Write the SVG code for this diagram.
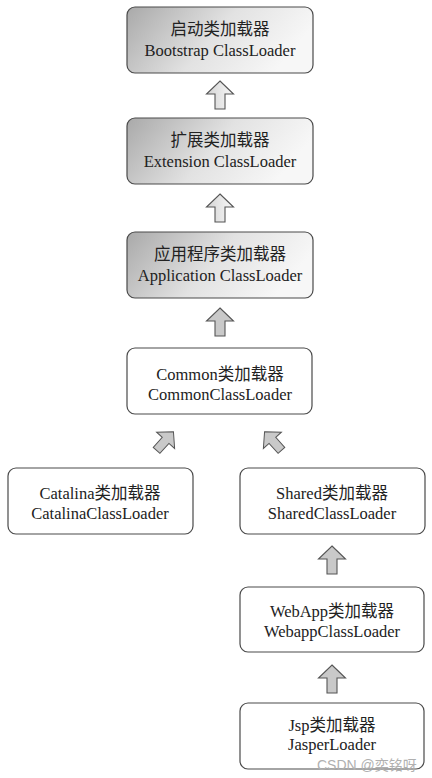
<svg xmlns="http://www.w3.org/2000/svg" width="432" height="778" viewBox="0 0 432 778">
<defs>
<linearGradient id="g" x1="0" y1="0" x2="1" y2="0.3">
<stop offset="0" stop-color="#a9a9a9"/>
<stop offset="0.55" stop-color="#e2e2e2"/>
<stop offset="1" stop-color="#f7f7f7"/>
</linearGradient>
<linearGradient id="ga" x1="0" y1="0" x2="1" y2="0">
<stop offset="0" stop-color="#d4d4d4"/>
<stop offset="1" stop-color="#f8f8f8"/>
</linearGradient>
<path id="arr" d="M0,-14 L13.5,-1 L5,-1 L5,14 L-5,14 L-5,-1 L-13.5,-1 Z"/>
</defs>
<style>
.box{stroke:#4a4a4a;stroke-width:1.2}
.gbox{fill:url(#g)}
.wbox{fill:#ffffff}
.t{font-family:"Liberation Serif","Noto Sans CJK SC",serif;font-size:16.5px;fill:#222;text-anchor:middle}
.a1{fill:url(#ga);stroke:#555;stroke-width:1.1}
.a2{fill:#c9c9c9;stroke:#555;stroke-width:1.1}
.wm{font-family:"Liberation Sans","Noto Sans CJK SC",sans-serif;font-size:14px;fill:#b0b0b0}
</style>
<rect width="432" height="778" fill="#ffffff"/>
<g id="connectors">
<use href="#arr" class="a1" transform="translate(220,95)"/>
<use href="#arr" class="a1" transform="translate(220,208)"/>
<use href="#arr" class="a2" transform="translate(220,322)"/>
<use href="#arr" class="a2" transform="translate(165,441) rotate(42) scale(0.9)"/>
<use href="#arr" class="a2" transform="translate(273,441) rotate(-42) scale(0.9)"/>
<use href="#arr" class="a2" transform="translate(332,560)"/>
<use href="#arr" class="a2" transform="translate(332,679)"/>
</g>
<g id="bootstrap">
<rect class="box gbox" x="127" y="7" width="186" height="66" rx="8"/>
<text class="t" x="220" y="35">启动类加载器</text>
<text class="t" x="220" y="56">Bootstrap ClassLoader</text>
</g>
<g id="extension">
<rect class="box gbox" x="127" y="118" width="186" height="66" rx="8"/>
<text class="t" x="220" y="146">扩展类加载器</text>
<text class="t" x="220" y="167">Extension ClassLoader</text>
</g>
<g id="application">
<rect class="box gbox" x="127" y="232" width="186" height="66" rx="8"/>
<text class="t" x="220" y="260">应用程序类加载器</text>
<text class="t" x="220" y="281">Application ClassLoader</text>
</g>
<g id="common">
<rect class="box wbox" x="127" y="348" width="185" height="66" rx="8"/>
<text class="t" x="220" y="380">Common类加载器</text>
<text class="t" x="220" y="400">CommonClassLoader</text>
</g>
<g id="catalina">
<rect class="box wbox" x="8" y="468" width="185" height="66" rx="8"/>
<text class="t" x="100" y="499">Catalina类加载器</text>
<text class="t" x="100" y="519">CatalinaClassLoader</text>
</g>
<g id="shared">
<rect class="box wbox" x="240" y="468" width="185" height="66" rx="8"/>
<text class="t" x="332" y="499">Shared类加载器</text>
<text class="t" x="332" y="519">SharedClassLoader</text>
</g>
<g id="webapp">
<rect class="box wbox" x="240" y="587" width="184" height="65" rx="8"/>
<text class="t" x="332" y="617">WebApp类加载器</text>
<text class="t" x="332" y="637">WebappClassLoader</text>
</g>
<g id="jsp">
<rect class="box wbox" x="240" y="703" width="184" height="66" rx="8"/>
<text class="t" x="332" y="731">Jsp类加载器</text>
<text class="t" x="332" y="750">JasperLoader</text>
</g>
<text class="wm" x="317" y="770">CSDN @奕铭呀</text>
</svg>
